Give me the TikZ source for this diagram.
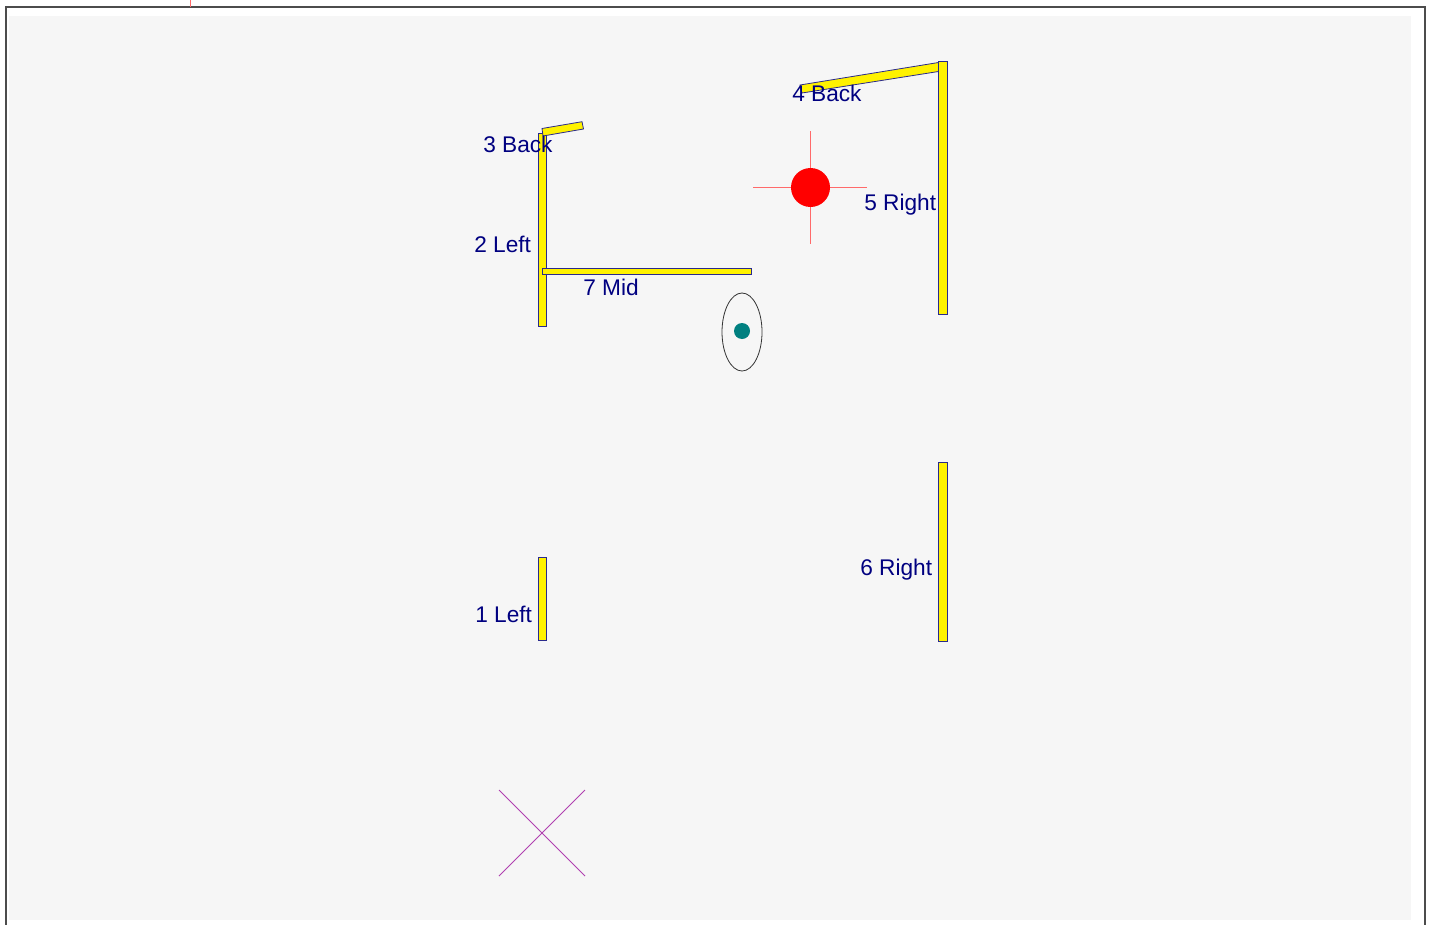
\documentclass[tikz,border=0pt]{standalone}
\usepackage{fontspec}
\setmainfont{Liberation Sans}
\definecolor{panel}{HTML}{F6F6F6}
\definecolor{barline}{HTML}{2A2A8C}
\definecolor{labelblue}{HTML}{000080}
\definecolor{crossred}{HTML}{FF6A6A}
\definecolor{tealdot}{HTML}{008080}
\definecolor{xpurple}{HTML}{B040B0}
\tikzset{
  wall/.style={draw=barline,fill=yellow,line width=0.6pt},
  lab/.style={text=labelblue,font=\fontsize{17}{20}\selectfont,inner sep=0pt,anchor=base west},
  cross/.style={draw=crossred,line width=0.7pt},
}
\begin{document}
\begin{tikzpicture}[x=0.75pt,y=-0.75pt]
\useasboundingbox (0,0) rectangle (1430,924);
\fill[white] (0,0) rectangle (1430,924);
\fill[panel] (9,16) rectangle (1411,920);
\draw[black!70,line width=0.9pt] (6,930) -- (6,7) -- (1425,7) -- (1425,930);
\draw[cross] (190,0) -- (190,7);
% walls
\draw[wall] (538.5,133) rectangle (546.5,326);
\draw[wall] (542,128.5) -- (582,121.7) -- (583.5,129) -- (543,136) -- cycle;
\draw[wall] (542,268.5) rectangle (751,274);
\draw[wall] (800,85) -- (938.5,62.5) -- (938.5,71.5) -- (802,93) -- cycle;
\draw[wall] (938.5,61.5) rectangle (947.5,314);
\draw[wall] (938.5,462) rectangle (947.5,641);
\draw[wall] (538.5,557) rectangle (546.5,640);
% target
\draw[cross] (753,187.5) -- (867,187.5);
\draw[cross] (810.5,131) -- (810.5,244);
\fill[red] (810.5,187.5) circle[radius=19.5];
% head
\draw[black!80,line width=0.6pt] (742,332) ellipse[x radius=20,y radius=39];
\fill[tealdot] (742,331) circle[radius=8];
% X mark
\draw[xpurple,line width=0.7pt] (499,790) -- (585,876);
\draw[xpurple,line width=0.7pt] (585,790) -- (499,876);
% labels
\node[lab] (l3) at (483,152) {3 Back};
\node[lab] (l2) at (474,252) {2 Left};
\node[lab] (l7) at (583,295) {7 Mid};
\node[lab] (l4) at (792,101) {4 Back};
\node[lab] (l5) at (864,210) {5 Right};
\node[lab] (l6) at (860,575.5) {6 Right};
\node[lab] (l1) at (475,622) {1 Left};
\end{tikzpicture}
\end{document}
